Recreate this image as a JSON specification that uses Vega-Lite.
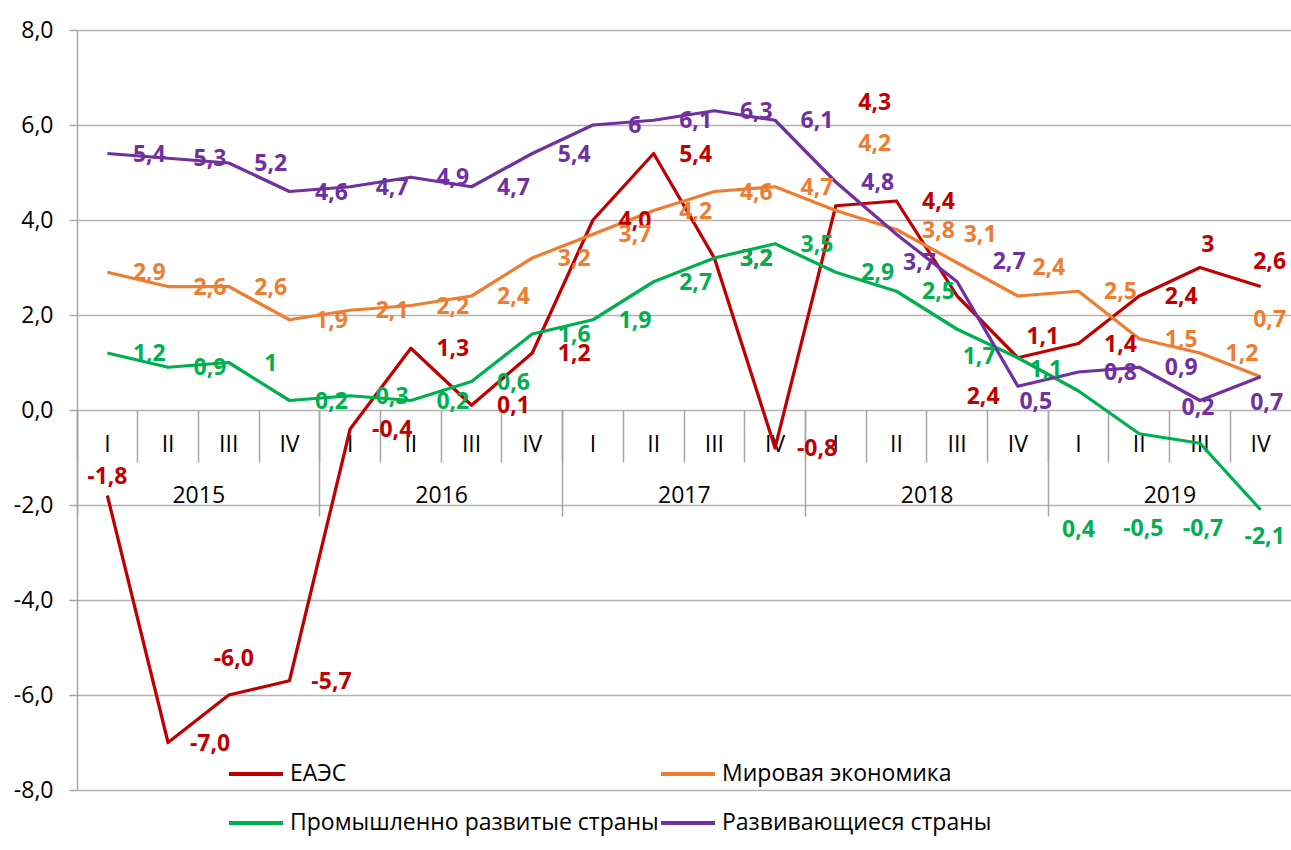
{
  "$schema": "https://vega.github.io/schema/vega-lite/v6.json",
  "width": 1214,
  "height": 760,
  "autosize": {"type": "none"},
  "padding": {"left": 77, "top": 30, "right": 0, "bottom": 60},
  "background": "white",
  "config": {
    "view": {"stroke": null},
    "font": "Open Sans",
    "legend": {"padding": 0}
  },
  "datasets": {
    "rows": [
      {"s": "ЕАЭС", "p": "2015 I", "v": -1.8, "t": "-1,8"},
      {"s": "ЕАЭС", "p": "2015 II", "v": -7.0, "t": "-7,0"},
      {"s": "ЕАЭС", "p": "2015 III", "v": -6.0, "t": "-6,0"},
      {"s": "ЕАЭС", "p": "2015 IV", "v": -5.7, "t": "-5,7"},
      {"s": "ЕАЭС", "p": "2016 I", "v": -0.4, "t": "-0,4"},
      {"s": "ЕАЭС", "p": "2016 II", "v": 1.3, "t": "1,3"},
      {"s": "ЕАЭС", "p": "2016 III", "v": 0.1, "t": "0,1"},
      {"s": "ЕАЭС", "p": "2016 IV", "v": 1.2, "t": "1,2"},
      {"s": "ЕАЭС", "p": "2017 I", "v": 4.0, "t": "4,0"},
      {"s": "ЕАЭС", "p": "2017 II", "v": 5.4, "t": "5,4"},
      {"s": "ЕАЭС", "p": "2017 III", "v": 3.2, "t": "3,2"},
      {"s": "ЕАЭС", "p": "2017 IV", "v": -0.8, "t": "-0,8"},
      {"s": "ЕАЭС", "p": "2018 I", "v": 4.3, "t": "4,3"},
      {"s": "ЕАЭС", "p": "2018 II", "v": 4.4, "t": "4,4"},
      {"s": "ЕАЭС", "p": "2018 III", "v": 2.4, "t": "2,4"},
      {"s": "ЕАЭС", "p": "2018 IV", "v": 1.1, "t": "1,1"},
      {"s": "ЕАЭС", "p": "2019 I", "v": 1.4, "t": "1,4"},
      {"s": "ЕАЭС", "p": "2019 II", "v": 2.4, "t": "2,4"},
      {"s": "ЕАЭС", "p": "2019 III", "v": 3.0, "t": "3"},
      {"s": "ЕАЭС", "p": "2019 IV", "v": 2.6, "t": "2,6"},
      {"s": "Мировая экономика", "p": "2015 I", "v": 2.9, "t": "2,9"},
      {"s": "Мировая экономика", "p": "2015 II", "v": 2.6, "t": "2,6"},
      {"s": "Мировая экономика", "p": "2015 III", "v": 2.6, "t": "2,6"},
      {"s": "Мировая экономика", "p": "2015 IV", "v": 1.9, "t": "1,9"},
      {"s": "Мировая экономика", "p": "2016 I", "v": 2.1, "t": "2,1"},
      {"s": "Мировая экономика", "p": "2016 II", "v": 2.2, "t": "2,2"},
      {"s": "Мировая экономика", "p": "2016 III", "v": 2.4, "t": "2,4"},
      {"s": "Мировая экономика", "p": "2016 IV", "v": 3.2, "t": "3,2"},
      {"s": "Мировая экономика", "p": "2017 I", "v": 3.7, "t": "3,7"},
      {"s": "Мировая экономика", "p": "2017 II", "v": 4.2, "t": "4,2"},
      {"s": "Мировая экономика", "p": "2017 III", "v": 4.6, "t": "4,6"},
      {"s": "Мировая экономика", "p": "2017 IV", "v": 4.7, "t": "4,7"},
      {"s": "Мировая экономика", "p": "2018 I", "v": 4.2, "t": "4,2"},
      {"s": "Мировая экономика", "p": "2018 II", "v": 3.8, "t": "3,8"},
      {"s": "Мировая экономика", "p": "2018 III", "v": 3.1, "t": "3,1"},
      {"s": "Мировая экономика", "p": "2018 IV", "v": 2.4, "t": "2,4"},
      {"s": "Мировая экономика", "p": "2019 I", "v": 2.5, "t": "2,5"},
      {"s": "Мировая экономика", "p": "2019 II", "v": 1.5, "t": "1,5"},
      {"s": "Мировая экономика", "p": "2019 III", "v": 1.2, "t": "1,2"},
      {"s": "Мировая экономика", "p": "2019 IV", "v": 0.7, "t": "0,7"},
      {"s": "Промышленно развитые страны", "p": "2015 I", "v": 1.2, "t": "1,2"},
      {"s": "Промышленно развитые страны", "p": "2015 II", "v": 0.9, "t": "0,9"},
      {"s": "Промышленно развитые страны", "p": "2015 III", "v": 1.0, "t": "1"},
      {"s": "Промышленно развитые страны", "p": "2015 IV", "v": 0.2, "t": "0,2"},
      {"s": "Промышленно развитые страны", "p": "2016 I", "v": 0.3, "t": "0,3"},
      {"s": "Промышленно развитые страны", "p": "2016 II", "v": 0.2, "t": "0,2"},
      {"s": "Промышленно развитые страны", "p": "2016 III", "v": 0.6, "t": "0,6"},
      {"s": "Промышленно развитые страны", "p": "2016 IV", "v": 1.6, "t": "1,6"},
      {"s": "Промышленно развитые страны", "p": "2017 I", "v": 1.9, "t": "1,9"},
      {"s": "Промышленно развитые страны", "p": "2017 II", "v": 2.7, "t": "2,7"},
      {"s": "Промышленно развитые страны", "p": "2017 III", "v": 3.2, "t": "3,2"},
      {"s": "Промышленно развитые страны", "p": "2017 IV", "v": 3.5, "t": "3,5"},
      {"s": "Промышленно развитые страны", "p": "2018 I", "v": 2.9, "t": "2,9"},
      {"s": "Промышленно развитые страны", "p": "2018 II", "v": 2.5, "t": "2,5"},
      {"s": "Промышленно развитые страны", "p": "2018 III", "v": 1.7, "t": "1,7"},
      {"s": "Промышленно развитые страны", "p": "2018 IV", "v": 1.1, "t": "1,1"},
      {"s": "Промышленно развитые страны", "p": "2019 I", "v": 0.4, "t": "0,4"},
      {"s": "Промышленно развитые страны", "p": "2019 II", "v": -0.5, "t": "-0,5"},
      {"s": "Промышленно развитые страны", "p": "2019 III", "v": -0.7, "t": "-0,7"},
      {"s": "Промышленно развитые страны", "p": "2019 IV", "v": -2.1, "t": "-2,1"},
      {"s": "Развивающиеся страны", "p": "2015 I", "v": 5.4, "t": "5,4"},
      {"s": "Развивающиеся страны", "p": "2015 II", "v": 5.3, "t": "5,3"},
      {"s": "Развивающиеся страны", "p": "2015 III", "v": 5.2, "t": "5,2"},
      {"s": "Развивающиеся страны", "p": "2015 IV", "v": 4.6, "t": "4,6"},
      {"s": "Развивающиеся страны", "p": "2016 I", "v": 4.7, "t": "4,7"},
      {"s": "Развивающиеся страны", "p": "2016 II", "v": 4.9, "t": "4,9"},
      {"s": "Развивающиеся страны", "p": "2016 III", "v": 4.7, "t": "4,7"},
      {"s": "Развивающиеся страны", "p": "2016 IV", "v": 5.4, "t": "5,4"},
      {"s": "Развивающиеся страны", "p": "2017 I", "v": 6.0, "t": "6"},
      {"s": "Развивающиеся страны", "p": "2017 II", "v": 6.1, "t": "6,1"},
      {"s": "Развивающиеся страны", "p": "2017 III", "v": 6.3, "t": "6,3"},
      {"s": "Развивающиеся страны", "p": "2017 IV", "v": 6.1, "t": "6,1"},
      {"s": "Развивающиеся страны", "p": "2018 I", "v": 4.8, "t": "4,8"},
      {"s": "Развивающиеся страны", "p": "2018 II", "v": 3.7, "t": "3,7"},
      {"s": "Развивающиеся страны", "p": "2018 III", "v": 2.7, "t": "2,7"},
      {"s": "Развивающиеся страны", "p": "2018 IV", "v": 0.5, "t": "0,5"},
      {"s": "Развивающиеся страны", "p": "2019 I", "v": 0.8, "t": "0,8"},
      {"s": "Развивающиеся страны", "p": "2019 II", "v": 0.9, "t": "0,9"},
      {"s": "Развивающиеся страны", "p": "2019 III", "v": 0.2, "t": "0,2"},
      {"s": "Развивающиеся страны", "p": "2019 IV", "v": 0.7, "t": "0,7"}
    ]
  },
  "data": {"name": "rows"},
  "encoding": {
    "y": {
      "field": "v",
      "type": "quantitative",
      "scale": {"domain": [-8, 8], "nice": false, "zero": false},
      "axis": {
        "values": [-8, -6, -4, -2, 0, 2, 4, 6, 8],
        "labelExpr": "replace(replace(format(datum.value, '.1f'), '.', ','), '\u2212', '-')",
        "grid": true,
        "gridColor": "#b3b3b3",
        "gridWidth": 1.5,
        "domainColor": "#a6a6a6",
        "domainWidth": 1.5,
        "tickColor": "#a6a6a6",
        "tickWidth": 1.5,
        "tickSize": 8,
        "labelPadding": 16,
        "labelFontSize": 23,
        "labelColor": "#000000",
        "title": null
      }
    }
  },
  "layer": [
    {
      "mark": {"type": "line", "strokeWidth": 3.25, "strokeJoin": "round"},
      "encoding": {
        "x": {
          "field": "p",
          "type": "nominal",
          "sort": null,
          "bandPosition": 0.5,
          "scale": {
            "type": "band",
            "paddingInner": 0,
            "paddingOuter": 0,
            "domain": ["2015 I", "2015 II", "2015 III", "2015 IV", "2016 I", "2016 II", "2016 III", "2016 IV", "2017 I", "2017 II", "2017 III", "2017 IV", "2018 I", "2018 II", "2018 III", "2018 IV", "2019 I", "2019 II", "2019 III", "2019 IV"]
          },
          "axis": {
            "orient": "bottom",
            "offset": -380,
            "domain": false,
            "ticks": false,
            "grid": false,
            "bandPosition": 0.5,
            "labelExpr": "split(datum.value, ' ')[1]",
            "labelPadding": 34,
            "labelBaseline": "middle",
            "labelAngle": 0,
            "labelFontSize": 23,
            "labelColor": "#000000",
            "labelOverlap": false,
            "title": null
          }
        },
        "color": {
          "field": "s",
          "type": "nominal",
          "scale": {
            "domain": ["ЕАЭС", "Мировая экономика", "Промышленно развитые страны", "Развивающиеся страны"],
            "range": ["#c00000", "#ed7d31", "#00b050", "#7030a0"]
          },
          "legend": {
            "orient": "none",
            "legendX": 150,
            "legendY": 715,
            "columns": 2,
            "values": ["ЕАЭС", "Промышленно развитые страны", "Мировая экономика", "Развивающиеся страны"],
            "title": null,
            "symbolType": "stroke",
            "symbolSize": 2916,
            "symbolStrokeWidth": 4,
            "labelFontSize": 23,
            "labelColor": "#000000",
            "labelOffset": 5,
            "rowPadding": 8,
            "columnPadding": -13,
            "labelLimit": 600
          }
        }
      }
    },
    {
      "transform": [{"filter": "datum.s === 'ЕАЭС'"}],
      "mark": {"type": "text", "color": "#c00000", "fontWeight": "bold", "fontSize": 23, "align": "center", "baseline": "middle",
        "dx": {"expr": "datum.p === '2015 I' ? 0 : datum.p === '2015 III' ? 5 : datum.p === '2018 I' ? 39 : datum.p === '2018 III' ? 26 : datum.p === '2018 IV' ? 25 : datum.p === '2019 III' ? 8 : datum.p === '2019 IV' ? 9 : 42"},
        "dy": {"expr": "datum.p === '2015 I' ? -19 : datum.p === '2015 III' ? -36 : datum.p === '2018 I' ? -103 : datum.p === '2018 III' ? 101 : datum.p === '2018 IV' ? -21 : datum.p === '2019 III' ? -23 : datum.p === '2019 IV' ? -25 : 1"}},
      "encoding": {
        "x": {
          "field": "p", "type": "nominal", "sort": null, "bandPosition": 0.5,
          "axis": {
            "orient": "bottom",
            "offset": -380,
            "domain": false,
            "grid": false,
            "ticks": true,
            "bandPosition": 0,
            "tickSize": 52,
            "tickColor": "#a6a6a6",
            "tickWidth": 1.5,
            "labelExpr": "split(datum.value, ' ')[1] == 'III' ? split(datum.value, ' ')[0] : ''",
            "labelPadding": 33,
            "labelOffset": -30,
            "labelBaseline": "middle",
            "labelAlign": "center",
            "labelAngle": 0,
            "labelFontSize": 23,
            "labelColor": "#000000",
            "labelOverlap": false,
            "title": null
          }
        },
        "text": {"field": "t", "type": "nominal"}
      }
    },
    {
      "transform": [{"filter": "datum.s === 'Мировая экономика'"}],
      "mark": {"type": "text", "color": "#ed7d31", "fontWeight": "bold", "fontSize": 23, "align": "center", "baseline": "middle",
        "dx": {"expr": "datum.p === '2018 I' ? 39 : datum.p === '2018 III' ? 23 : datum.p === '2018 IV' ? 31 : datum.p === '2019 IV' ? 9 : 42"},
        "dy": {"expr": "datum.p === '2018 I' ? -67 : datum.p === '2018 III' ? -28 : datum.p === '2018 IV' ? -28 : datum.p === '2019 IV' ? -57 : 1"}},
      "encoding": {
        "x": {
          "field": "p", "type": "nominal", "sort": null, "bandPosition": 0.5,
          "axis": {
            "orient": "bottom",
            "offset": -380,
            "domain": false,
            "grid": false,
            "ticks": true,
            "labels": false,
            "bandPosition": 0,
            "values": ["2015 I", "2016 I", "2017 I", "2018 I", "2019 I"],
            "tickSize": 106,
            "tickColor": "#a6a6a6",
            "tickWidth": 1.5,
            "title": null
          }
        },
        "text": {"field": "t", "type": "nominal"}
      }
    },
    {
      "transform": [{"filter": "datum.s === 'Промышленно развитые страны'"}],
      "mark": {"type": "text", "color": "#00b050", "fontWeight": "bold", "fontSize": 23, "align": "center", "baseline": "middle",
        "dx": {"expr": "datum.p === '2018 III' ? 22 : datum.p === '2018 IV' ? 28 : datum.p === '2019 I' ? 0 : datum.p === '2019 II' ? 4 : datum.p === '2019 III' ? 3 : datum.p === '2019 IV' ? 4 : 42"},
        "dy": {"expr": "datum.p === '2018 III' ? 28 : datum.p === '2018 IV' ? 12 : datum.p === '2019 I' ? 139 : datum.p === '2019 II' ? 95 : datum.p === '2019 III' ? 86 : datum.p === '2019 IV' ? 27 : 1"}},
      "encoding": {
        "x": {"field": "p", "type": "nominal", "sort": null, "bandPosition": 0.5, "axis": null},
        "text": {"field": "t", "type": "nominal"}
      }
    },
    {
      "transform": [{"filter": "datum.s === 'Развивающиеся страны'"}],
      "mark": {"type": "text", "color": "#7030a0", "fontWeight": "bold", "fontSize": 23, "align": "center", "baseline": "middle",
        "dx": {"expr": "datum.p === '2018 II' ? 23 : datum.p === '2018 III' ? 52 : datum.p === '2018 IV' ? 18 : datum.p === '2019 III' ? -2 : datum.p === '2019 IV' ? 6 : 42"},
        "dy": {"expr": "datum.p === '2018 II' ? 29 : datum.p === '2018 III' ? -20 : datum.p === '2018 IV' ? 16 : datum.p === '2019 III' ? 7 : datum.p === '2019 IV' ? 26 : 1"}},
      "encoding": {
        "x": {"field": "p", "type": "nominal", "sort": null, "bandPosition": 0.5, "axis": null},
        "text": {"field": "t", "type": "nominal"}
      }
    }
  ],
  "resolve": {"axis": {"x": "independent"}}
}
